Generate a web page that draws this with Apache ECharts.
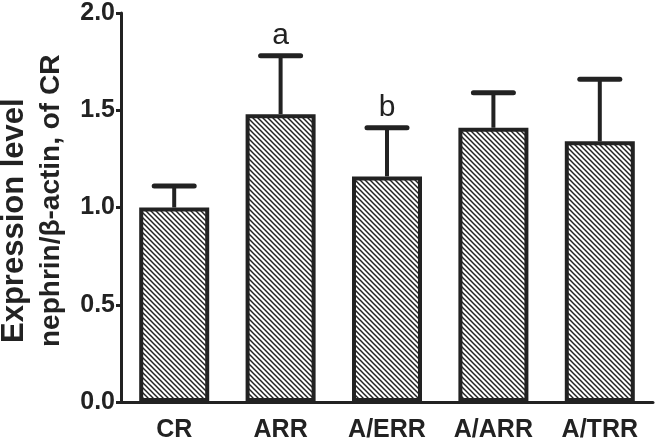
<!DOCTYPE html>
<html>
<head>
<meta charset="utf-8">
<script src="https://cdn.jsdelivr.net/npm/echarts@6/dist/echarts.min.js"></script>
<style>
html,body{margin:0;padding:0;background:#fff;}
#chart{width:657px;height:443px;}
</style>
</head>
<body>
<div id="chart"></div>
<script>
var categories = ['CR', 'ARR', 'A/ERR', 'A/ARR', 'A/TRR'];
var means = [1.00, 1.48, 1.16, 1.41, 1.34];
var errUpper = [1.11, 1.78, 1.41, 1.59, 1.66];
var letters = ['', 'a', 'b', '', ''];
var yTicks = [0, 0.5, 1.0, 1.5, 2.0];

var INK = '#222222';
var FONT = '"Liberation Sans", Arial, sans-serif';

// hatch pattern "\\"
var tile = document.createElement('canvas');
tile.width = 5; tile.height = 5;
var tctx = tile.getContext('2d');
tctx.fillStyle = '#ffffff';
tctx.fillRect(0, 0, 5, 5);
tctx.strokeStyle = INK;
tctx.lineWidth = 1.5;
for (var k = -5; k <= 5; k += 5) {
  tctx.beginPath();
  tctx.moveTo(k - 1, -1);
  tctx.lineTo(k + 6, 6);
  tctx.stroke();
}

var errData = categories.map(function (c, i) { return [i, means[i], errUpper[i]]; });

var chart = echarts.init(document.getElementById('chart'), null, {renderer: 'canvas'});
chart.setOption({
  animation: false,
  backgroundColor: '#ffffff',
  grid: {left: 121, right: 4, top: 13, bottom: 40, containLabel: false},
  xAxis: {
    type: 'category',
    data: categories,
    axisLine: {lineStyle: {color: INK, width: 3}},
    axisTick: {show: false},
    axisLabel: {color: INK, fontSize: 25, fontWeight: 'bold', fontFamily: FONT, margin: 16}
  },
  yAxis: {
    type: 'value',
    min: 0, max: 2, interval: 0.5,
    axisLine: {show: true, lineStyle: {color: INK, width: 3}},
    axisTick: {show: true, inside: false, length: 5, lineStyle: {color: INK, width: 3}},
    splitLine: {show: false},
    axisLabel: {
      color: INK, fontSize: 25, fontWeight: 'bold', fontFamily: FONT, margin: 6,
      formatter: function (v) { return v.toFixed(1); },
      customValues: yTicks
    }
  },
  graphic: [
    {
      type: 'text', x: 14, y: 343, rotation: Math.PI / 2,
      style: {text: 'Expression level', font: 'bold 31px ' + FONT, fill: INK, align: 'left', verticalAlign: 'middle'}
    },
    {
      type: 'text', x: 51, y: 347, rotation: Math.PI / 2,
      style: {text: 'nephrin/β-actin, of CR', font: 'bold 28px ' + FONT, fill: INK, align: 'left', verticalAlign: 'middle'}
    }
  ],
  series: [
    {
      type: 'custom',
      data: errData,
      z: 1,
      renderItem: function (params, api) {
        var lo = api.coord([api.value(0), api.value(1)]);
        var hi = api.coord([api.value(0), api.value(2)]);
        var half = 20;
        var children = [
          {type: 'line', shape: {x1: lo[0], y1: lo[1], x2: hi[0], y2: hi[1]}, style: {stroke: INK, lineWidth: 4}},
          {type: 'line', shape: {x1: hi[0] - half, y1: hi[1], x2: hi[0] + half, y2: hi[1]}, style: {stroke: INK, lineWidth: 5, lineCap: 'round'}}
        ];
        var letter = letters[params.dataIndex];
        if (letter) {
          children.push({type: 'text', style: {text: letter, x: hi[0], y: hi[1] - 5, align: 'center', verticalAlign: 'bottom', font: '30px ' + FONT, fill: INK}});
        }
        return {type: 'group', children: children};
      }
    },
    {
      type: 'bar',
      data: means,
      barWidth: 70,
      z: 2,
      itemStyle: {color: {image: tile, repeat: 'repeat'}, borderColor: INK, borderWidth: 4}
    }
  ]
});
</script>
</body>
</html>
